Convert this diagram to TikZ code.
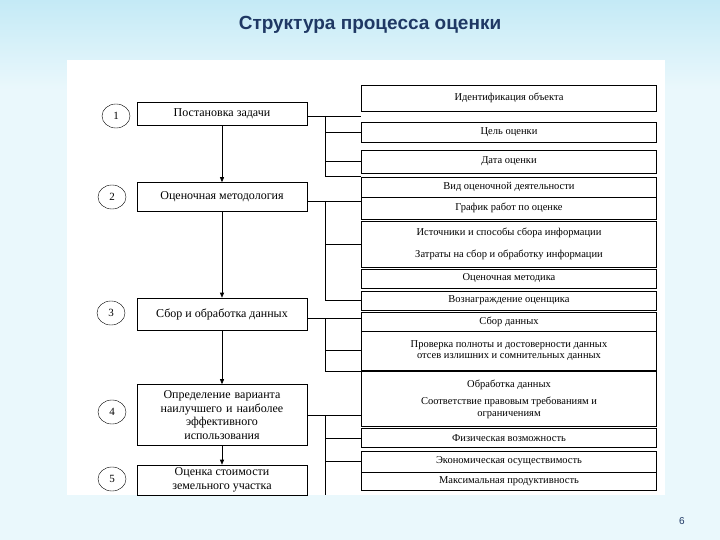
\documentclass[tikz,border=0pt]{standalone}
\usepackage{fontspec}
\setmainfont{Liberation Serif}
\newfontfamily\titlefont{Liberation Sans}
\usetikzlibrary{positioning,arrows.meta,shapes.geometric}
\definecolor{titleblue}{RGB}{31,56,100}
\definecolor{slidecyan}{RGB}{196,234,246}
\tikzset{
  stepbox/.style={draw, line width=0.6pt, minimum width=170pt, align=center, font=\fontsize{12}{13.5}\selectfont, inner sep=1pt},
  itembox/.style={draw, line width=0.6pt, minimum width=295pt, align=center, font=\fontsize{10.5}{11.5}\selectfont, inner sep=0pt},
  num/.style={draw, ellipse, minimum width=28pt, minimum height=24pt, inner sep=0pt, font=\fontsize{11}{12}\selectfont},
  link/.style={line width=0.6pt},
  flow/.style={line width=0.6pt, -{Triangle[length=5pt,width=4pt]}}
}
\begin{document}
\begin{tikzpicture}[x=1pt,y=-1pt]
\useasboundingbox (0,0) rectangle (720,540);
\fill[slidecyan!35] (0,0) rectangle (720,540);
\shade[top color=slidecyan, bottom color=slidecyan!35] (0,0) rectangle (720,90);
\fill[white] (67,60) rectangle (665,495);
\node[font=\titlefont\bfseries\fontsize{19}{22}\selectfont, text=titleblue] (title) at (370,25) {Структура процесса оценки};
\node[font=\titlefont\fontsize{10}{11}\selectfont, text=titleblue] (page) at (682,521) {6};

% left column
\node[stepbox, minimum height=23pt] (s1) at (222,114) {Постановка задачи};
\node[stepbox, minimum height=29pt] (s2) at (222,197) {Оценочная методология};
\node[stepbox, minimum height=32pt] (s3) at (222,314) {Сбор и обработка данных};
\node[stepbox, minimum height=61pt, text width=160pt] (s4) at (222,415) {Определение варианта\\наилучшего и наиболее\\эффективного\\использования};
\node[stepbox, minimum height=30pt] (s5) at (222,480) {Оценка стоимости\\земельного участка};
\node[num] (n1) at (116,116) {1};
\node[num] (n2) at (112,197) {2};
\node[num] (n3) at (111,313) {3};
\node[num] (n4) at (112,412) {4};
\node[num] (n5) at (112,479) {5};
\foreach \a/\b in {s1/s2,s2/s3,s3/s4,s4/s5}
  \draw[flow] (\a) -- (\b);

% right column
\node[itembox, minimum height=26pt] (r1) at (509,98) {Идентификация объекта};
\node[itembox, minimum height=20pt] (r2) at (509,132) {Цель оценки};
\node[itembox, minimum height=23pt] (r3) at (509,161.5) {Дата оценки};
\node[itembox, minimum height=20pt] (r4) at (509,187) {Вид оценочной деятельности};
\node[itembox, minimum height=22pt] (r5) at (509,208) {График работ по оценке};
\node[itembox, minimum height=46pt] (r6) at (509,244) {Источники и способы сбора информации\\[10pt]Затраты на сбор и обработку информации};
\node[itembox, minimum height=19pt] (r7) at (509,278.5) {Оценочная методика};
\node[itembox, minimum height=19pt] (r8) at (509,300.5) {Вознаграждение оценщика};
\node[itembox, minimum height=19pt] (r9) at (509,321.5) {Сбор данных};
\node[itembox, minimum height=39pt] (r10) at (509,350.5) {Проверка полноты и достоверности данных\\отсев излишних и сомнительных данных};
\node[itembox, minimum height=55pt] (r11) at (509,399) {Обработка данных\\[6pt]Соответствие правовым требованиям и\\ограничениям};
\node[itembox, minimum height=19pt] (r12) at (509,438) {Физическая возможность};
\node[itembox, minimum height=21pt] (r13) at (509,461.5) {Экономическая осуществимость};
\node[itembox, minimum height=18pt] (r14) at (509,481) {Максимальная продуктивность};

% connectors
\coordinate (k1) at (325,116);
\coordinate (k2) at (325,201);
\coordinate (k3) at (325,318);
\coordinate (k4) at (325,415);
\draw[link] (s1.east |- k1) -- (r1.west |- k1);
\draw[link] (k1) |- (r4.north west);
\draw[link] (k1 |- r2) -- (r2.west);
\draw[link] (k1 |- r3) -- (r3.west);
\draw[link] (s2.east |- k2) -- (r5.west |- k2);
\draw[link] (k2) |- (r8.west);
\draw[link] (k2 |- r6) -- (r6.west);
\draw[link] (s3.east |- k3) -- (r9.west |- k3);
\draw[link] (k3) |- (r11.north west);
\draw[link] (k3 |- r10) -- (r10.west);
\draw[link] (s4.east |- k4) -- (r11.west |- k4);
\draw[link] (k4) -- (325,495);
\draw[link] (k4 |- r12) -- (r12.west);
\draw[link] (k4 |- r13) -- (r13.west);
\end{tikzpicture}
\end{document}
